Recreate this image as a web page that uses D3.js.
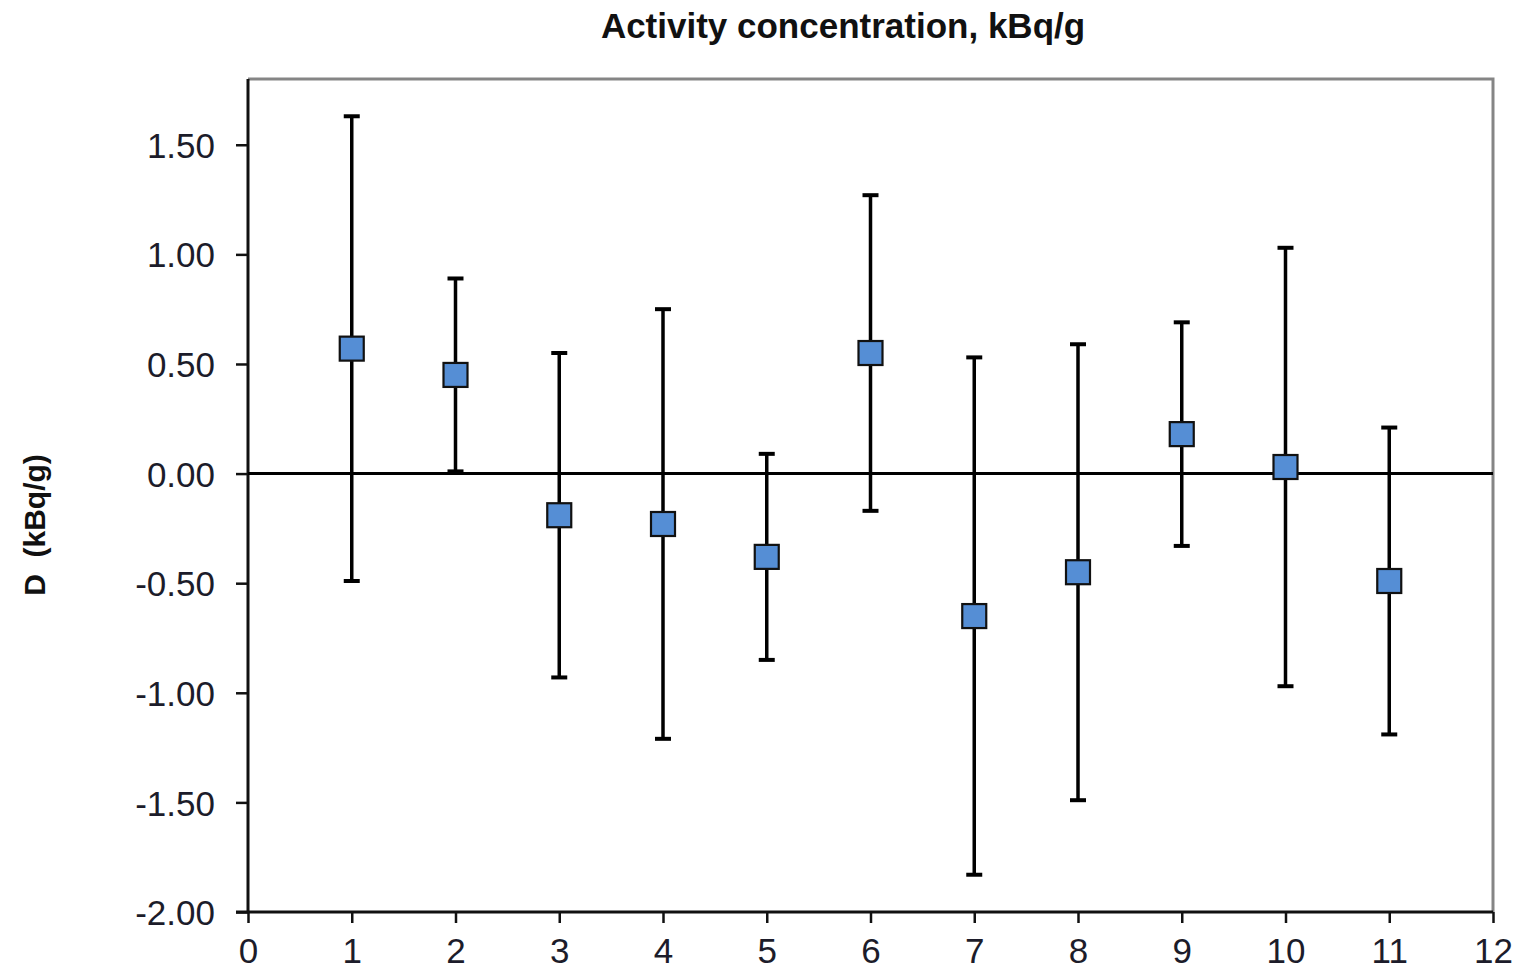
<!DOCTYPE html>
<html>
<head>
<meta charset="utf-8">
<script src="https://cdn.jsdelivr.net/npm/d3@7"></script>
<style>
  html, body { margin: 0; padding: 0; background: #fff; }
  svg { display: block; }
  text { font-family: "Liberation Sans", Arial, sans-serif; }
</style>
</head>
<body>
<svg id="chart" width="1522" height="971"></svg>
<script>
// Sample numbers and their deviations D with uncertainty limits (kBq/g)
const samples   = [1, 2, 3, 4, 5, 6, 7, 8, 9, 10, 11];
const deviation = [0.57, 0.45, -0.19, -0.23, -0.38, 0.55, -0.65, -0.45, 0.18, 0.03, -0.49];
const upper     = [1.63, 0.89, 0.55, 0.75, 0.09, 1.27, 0.53, 0.59, 0.69, 1.03, 0.21];
const lower     = [-0.49, 0.01, -0.93, -1.21, -0.85, -0.17, -1.83, -1.49, -0.33, -0.97, -1.19];
const xTicks    = [0, 1, 2, 3, 4, 5, 6, 7, 8, 9, 10, 11, 12];
const yTicks    = [-2.0, -1.5, -1.0, -0.5, 0.0, 0.5, 1.0, 1.5];

const W = 1522, H = 971;
const margin = { top: 79, right: 29, bottom: 59, left: 248 };
const innerW = W - margin.left - margin.right;
const innerH = H - margin.top - margin.bottom;

const svg = d3.select("#chart");
const g = svg.append("g").attr("transform", `translate(${margin.left},${margin.top})`);

const x = d3.scaleLinear().domain([0, 12]).range([0, innerW]);
const y = d3.scaleLinear().domain([-2.0, 1.8]).range([innerH, 0]);

const points = samples.map((s, i) => ({ s, d: deviation[i], hi: upper[i], lo: lower[i] }));

// Frame: grey top and right edges
g.append("path")
  .attr("d", `M0,0H${innerW}V${innerH}`)
  .attr("fill", "none")
  .attr("stroke", "#858585")
  .attr("stroke-width", 3);

// Y axis
const yAxis = g.append("g")
  .call(d3.axisLeft(y).tickValues(yTicks).tickFormat(d3.format(".2f")).tickSize(12).tickPadding(21));
yAxis.select(".domain").attr("stroke", "#111").attr("stroke-width", 3)
  .attr("d", `M0,${innerH}V0`);
yAxis.selectAll(".tick line").attr("stroke", "#111").attr("stroke-width", 2.5);
yAxis.selectAll(".tick text")
  .attr("font-size", 35)
  .attr("fill", "#1c1c2a")
  .attr("dy", "0.36em")
  .text(d => d3.format(".2f")(d).replace("−", "-"));

// X axis
const xAxis = g.append("g")
  .attr("transform", `translate(0,${innerH})`)
  .call(d3.axisBottom(x).tickValues(xTicks).tickFormat(d3.format("d")).tickSize(11).tickPadding(15));
xAxis.select(".domain").attr("stroke", "#111").attr("stroke-width", 3)
  .attr("d", `M-12,0H${innerW}`);
xAxis.selectAll(".tick line").attr("stroke", "#111").attr("stroke-width", 2.5);
xAxis.selectAll(".tick text")
  .attr("font-size", 35)
  .attr("fill", "#1c1c2a");

// Zero reference line
g.append("line")
  .attr("x1", 0).attr("x2", innerW)
  .attr("y1", y(0)).attr("y2", y(0))
  .attr("stroke", "#000")
  .attr("stroke-width", 3);

// Error bars
const bars = g.append("g").attr("stroke", "#000");
bars.selectAll("line.stem")
  .data(points).join("line")
  .attr("class", "stem")
  .attr("x1", d => x(d.s)).attr("x2", d => x(d.s))
  .attr("y1", d => y(d.hi)).attr("y2", d => y(d.lo))
  .attr("stroke-width", 3.5);
bars.selectAll("line.capHi")
  .data(points).join("line")
  .attr("class", "capHi")
  .attr("x1", d => x(d.s) - 8).attr("x2", d => x(d.s) + 8)
  .attr("y1", d => y(d.hi)).attr("y2", d => y(d.hi))
  .attr("stroke-width", 4);
bars.selectAll("line.capLo")
  .data(points).join("line")
  .attr("class", "capLo")
  .attr("x1", d => x(d.s) - 8).attr("x2", d => x(d.s) + 8)
  .attr("y1", d => y(d.lo)).attr("y2", d => y(d.lo))
  .attr("stroke-width", 4);

// Square markers
const m = 24;
g.append("g").selectAll("rect")
  .data(points).join("rect")
  .attr("x", d => x(d.s) - m / 2)
  .attr("y", d => y(d.d) - m / 2)
  .attr("width", m).attr("height", m)
  .attr("fill", "#558ed5")
  .attr("stroke", "#111")
  .attr("stroke-width", 2.2);

// Title
svg.append("text")
  .attr("x", 843).attr("y", 38)
  .attr("text-anchor", "middle")
  .attr("font-size", 35)
  .attr("font-weight", "bold")
  .attr("fill", "#111")
  .text("Activity concentration, kBq/g");

// Y axis title
svg.append("text")
  .attr("transform", "translate(45,525) rotate(-90)")
  .attr("text-anchor", "middle")
  .attr("font-size", 30)
  .attr("font-weight", "bold")
  .attr("fill", "#111")
  .attr("xml:space", "preserve")
  .text("D  (kBq/g)");
</script>
</body>
</html>
